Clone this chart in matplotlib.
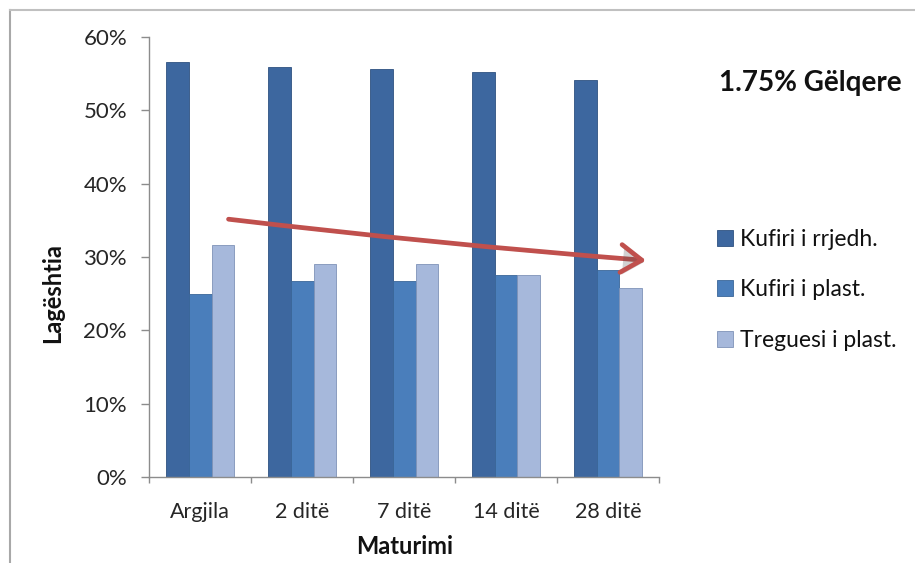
import numpy as np
import matplotlib
matplotlib.use("Agg")
import matplotlib.pyplot as plt
from matplotlib.lines import Line2D
from matplotlib.patches import FancyArrowPatch
from matplotlib.ticker import FuncFormatter, FixedLocator
import matplotlib.patheffects as pe

plt.rcParams['font.family'] = ['Lato', 'DejaVu Sans']

# moisture limits by curing time
categories = ['Argjila', '2 ditë', '7 ditë', '14 ditë', '28 ditë']
kufiri_rrjedh = [0.566, 0.559, 0.557, 0.552, 0.542]
kufiri_plast = [0.250, 0.267, 0.267, 0.275, 0.282]
treguesi_plast = [0.316, 0.291, 0.291, 0.276, 0.258]
series_names = ['Kufiri i rrjedh.', 'Kufiri i plast.', 'Treguesi i plast.']
yticks = [0, 0.1, 0.2, 0.3, 0.4, 0.5, 0.6]

# trend arrow (category index, moisture)
trend_start = (0.25, 0.352)
trend_end = (4.40, 0.295)

colors = ['#3D679F', '#4A7EBB', '#A6B8DB']
edges = ['#2F5281', '#3A6699', '#7F93B8']

fig = plt.figure(figsize=(9.15, 5.63), dpi=100)
ax = fig.add_axes([0.1632, 0.1527, 0.557, 0.7816])

x = np.arange(len(categories))
w = 0.223
for i, vals in enumerate([kufiri_rrjedh, kufiri_plast, treguesi_plast]):
    ax.bar(x + (i - 1) * w, vals, width=w, color=colors[i],
           edgecolor=edges[i], linewidth=0.6, label=series_names[i], zorder=2)

ax.set_xlim(-0.5, len(categories) - 0.5)
ax.set_ylim(0, 0.6)
ax.set_yticks(yticks)
ax.yaxis.set_major_formatter(FuncFormatter(lambda v, p: f"{v*100:.0f}%"))
ax.set_xticks(x)
ax.set_xticklabels(categories)
ax.xaxis.set_minor_locator(FixedLocator(np.arange(-0.5, len(categories), 1.0)))

for s in ['top', 'right']:
    ax.spines[s].set_visible(False)
for s in ['left', 'bottom']:
    ax.spines[s].set_color('#8C8C8C')
    ax.spines[s].set_linewidth(1.0)

ax.tick_params(axis='y', length=6, width=1, color='#8C8C8C', pad=10,
               labelsize=16, labelcolor='#262626')
ax.tick_params(axis='x', which='major', length=0, pad=18,
               labelsize=15.5, labelcolor='#262626')
ax.tick_params(axis='x', which='minor', length=4, width=1, color='#8C8C8C')

arrow = FancyArrowPatch(trend_start, trend_end,
                        arrowstyle='->,head_length=0.75,head_width=0.5',
                        color='#C0504D', lw=3.4, mutation_scale=20,
                        connectionstyle='arc3,rad=0.01', zorder=5,
                        path_effects=[pe.SimplePatchShadow(offset=(1.5, -1.5),
                                                           alpha=0.25),
                                      pe.Normal()])
ax.add_patch(arrow)

fig.text(405 / 915, 1 - 547 / 563, 'Maturimi', ha='center', va='center',
         fontsize=17, fontweight='bold', color='#111111')
fig.text(53 / 915, 1 - 293 / 563, 'Lagështia', ha='center', va='center',
         rotation=90, fontsize=17, fontweight='bold', color='#111111')
fig.text(810 / 915, 1 - 83 / 563, '1.75% Gëlqere', ha='center', va='center',
         fontsize=20, fontweight='bold', color='#111111')

fig.legend(loc='upper left', bbox_to_anchor=(0.7836, 1 - 229 / 563),
           frameon=False, fontsize=16.5, labelspacing=1.28, handlelength=0.7,
           handleheight=0.7, handletextpad=0.3, borderpad=0, borderaxespad=0,
           labelcolor='#111111')

# outer chart frame (left and top edges)
fig.add_artist(Line2D([10 / 915, 10 / 915], [0, 1 - 9.5 / 563],
                      color='#A8A8A8', lw=1.5, transform=fig.transFigure))
fig.add_artist(Line2D([10 / 915, 1], [1 - 9.5 / 563, 1 - 9.5 / 563],
                      color='#C0C0C0', lw=1.5, transform=fig.transFigure))

fig.savefig('out.png', dpi=100, facecolor='white')
